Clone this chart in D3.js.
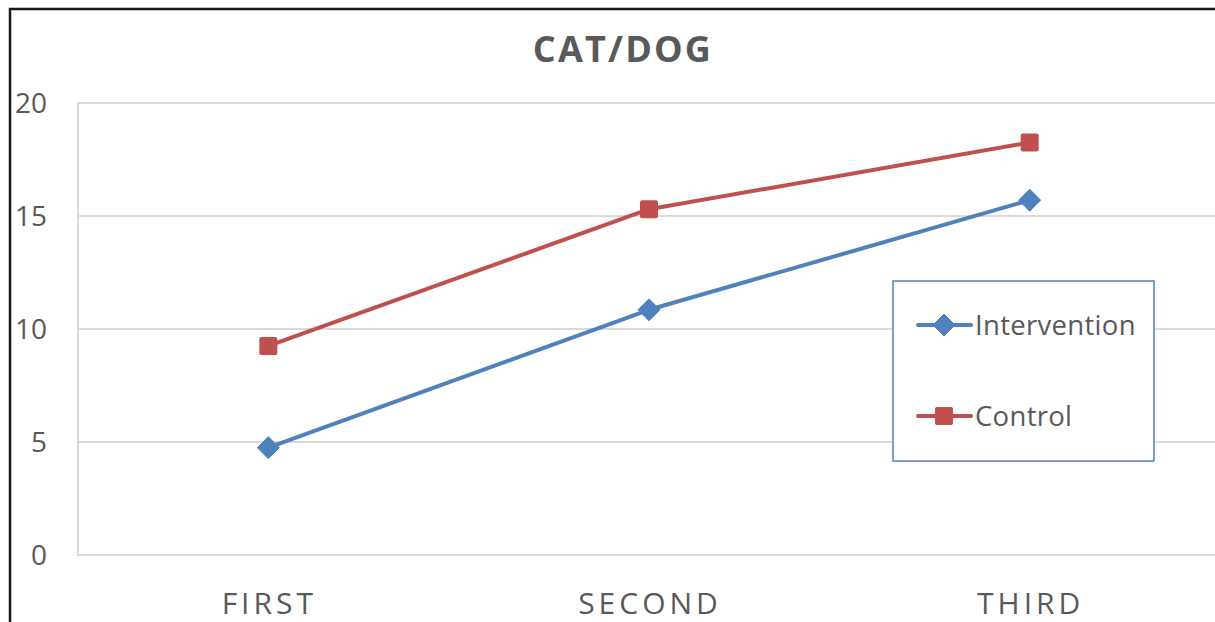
<!DOCTYPE html>
<html>
<head>
<meta charset="utf-8">
<script src="https://cdn.jsdelivr.net/npm/d3@7"></script>
<style>
  html, body { margin: 0; padding: 0; background: #fff; overflow: hidden; }
  svg { display: block; }
</style>
</head>
<body>
<svg id="chart" width="1215" height="622"></svg>
<script>
// Data
const categories = ["FIRST", "SECOND", "THIRD"];
const intervention = [4.75, 10.85, 15.7];
const control = [9.25, 15.3, 18.25];
const yTicks = [0, 5, 10, 15, 20];
const seriesNames = ["Intervention", "Control"];

const series = [
  { name: seriesNames[0], values: intervention, color: "#4F81BD", marker: "diamond" },
  { name: seriesNames[1], values: control, color: "#C0504D", marker: "square" }
];

const svg = d3.select("#chart");
const W = 1215, H = 622;
const plot = { left: 78, right: 1220, top: 103, bottom: 555 };

// Chart frame
svg.append("rect")
  .attr("x", 10).attr("y", 9)
  .attr("width", W + 20).attr("height", H + 20)
  .attr("fill", "#fff")
  .attr("stroke", "#1a1a1a").attr("stroke-width", 2.5);

const x = d3.scalePoint().domain(categories).range([plot.left, plot.right]).padding(0.5);
const y = d3.scaleLinear().domain([0, 20]).range([plot.bottom, plot.top]);

// Title
svg.append("text")
  .attr("x", 623).attr("y", 62)
  .attr("text-anchor", "middle")
  .attr("font-family", "'Open Sans', sans-serif")
  .attr("font-weight", "bold")
  .attr("font-size", 36)
  .attr("letter-spacing", 2.2)
  .attr("fill", "#595959")
  .text("CAT/DOG");

// Gridlines
svg.append("g")
  .selectAll("line")
  .data(yTicks)
  .join("line")
  .attr("x1", plot.left).attr("x2", W + 5)
  .attr("y1", d => y(d)).attr("y2", d => y(d))
  .attr("stroke", "#D9D9D9").attr("stroke-width", 2);

// Value axis line
svg.append("line")
  .attr("x1", plot.left).attr("x2", plot.left)
  .attr("y1", y(20) - 1).attr("y2", y(0) + 1)
  .attr("stroke", "#D9D9D9").attr("stroke-width", 2);

// Y tick labels
svg.append("g")
  .selectAll("text")
  .data(yTicks)
  .join("text")
  .attr("x", 47).attr("y", d => y(d))
  .attr("dy", "0.36em")
  .attr("text-anchor", "end")
  .attr("font-family", "'Open Sans', sans-serif")
  .attr("font-size", 28)
  .attr("fill", "#595959")
  .text(d => d);

// Category labels
svg.append("g")
  .selectAll("text")
  .data(categories)
  .join("text")
  .attr("x", d => x(d) + 1).attr("y", 614)
  .attr("text-anchor", "middle")
  .attr("font-family", "'Open Sans', sans-serif")
  .attr("font-size", 30)
  .attr("letter-spacing", 4)
  .attr("fill", "#595959")
  .text(d => d);

const line = d3.line().x((d, i) => x(categories[i])).y(d => y(d));

const diamond = s => `M0,${-s}L${s},0L0,${s}L${-s},0Z`;

function drawMarker(g, type, color) {
  if (type === "diamond") {
    g.append("path").attr("d", diamond(11)).attr("fill", color)
      .attr("stroke", color).attr("stroke-width", 1).attr("stroke-linejoin", "round");
  } else {
    g.append("rect").attr("x", -9).attr("y", -9).attr("width", 18).attr("height", 18)
      .attr("rx", 2).attr("fill", color);
  }
}

// Series lines and markers
series.forEach(s => {
  svg.append("path")
    .datum(s.values)
    .attr("d", line)
    .attr("fill", "none")
    .attr("stroke", s.color)
    .attr("stroke-width", 4)
    .attr("stroke-linejoin", "round");
  svg.append("g")
    .selectAll("g")
    .data(s.values)
    .join("g")
    .attr("transform", (d, i) => `translate(${x(categories[i])},${y(d)})`)
    .each(function() { drawMarker(d3.select(this), s.marker, s.color); });
});

// Legend
const legend = svg.append("g");
legend.append("rect")
  .attr("x", 893).attr("y", 281).attr("width", 261).attr("height", 180)
  .attr("fill", "#fff").attr("stroke", "#4F81BD").attr("stroke-width", 1.5);

const legendY = d3.scalePoint().domain(seriesNames).range([325, 416]);
series.forEach(s => {
  const ly = legendY(s.name);
  legend.append("line")
    .attr("x1", 918).attr("x2", 971).attr("y1", ly).attr("y2", ly)
    .attr("stroke", s.color).attr("stroke-width", 4).attr("stroke-linecap", "round");
  const mg = legend.append("g").attr("transform", `translate(944,${ly})`);
  drawMarker(mg, s.marker, s.color);
  legend.append("text")
    .attr("x", 975).attr("y", ly).attr("dy", "0.36em")
    .attr("font-family", "'Open Sans', sans-serif")
    .attr("font-size", 27.5)
    .attr("letter-spacing", 0.3)
    .attr("fill", "#595959")
    .text(s.name);
});
</script>
</body>
</html>
